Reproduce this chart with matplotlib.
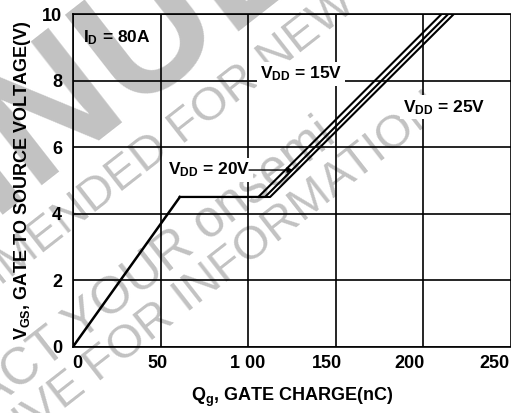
import matplotlib
matplotlib.use("Agg")
import matplotlib.pyplot as plt

plt.rcParams['font.family'] = ['Liberation Sans', 'DejaVu Sans']
plt.rcParams['font.weight'] = 'bold'
plt.rcParams['mathtext.fontset'] = 'custom'
plt.rcParams['mathtext.rm'] = 'Liberation Sans:bold'
plt.rcParams['mathtext.it'] = 'Liberation Sans:bold'
plt.rcParams['mathtext.bf'] = 'Liberation Sans:bold'

# gate charge curves (Qg in nC, Vgs in V)
rise_q = [0, 61]
rise_v = [0, 4.5]
curves = {
    '15V': ([61, 105.8, 210.4], [4.5, 4.5, 10.0]),
    '20V': ([61, 109.6, 214.2], [4.5, 4.5, 10.0]),
    '25V': ([61, 112.5, 217.4], [4.5, 4.5, 10.0]),
}
xticks = [0, 50, 100, 150, 200, 250]
xtick_labels = ['0', '50', '1 00', '150', '200', '250']
xlabel_pos = [2.3, 48.5, 99.5, 145, 192, 240.7]   # labels sit a bit off the grid
yticks = [0, 2, 4, 6, 8, 10]

fig = plt.figure(figsize=(5.11, 4.13), dpi=100)
ax = fig.add_axes([73/511, 66.3/413, 438/511, 332.7/413])

# watermark, behind the axes
def wm(x, y, s, size, ha, weight='normal'):
    fig.text(x/511, 1 - y/413, s, fontsize=size, color='#c2c2c2',
             fontweight=weight, rotation=38, rotation_mode='anchor',
             ha=ha, va='baseline', zorder=-1)

wm(30, 185, 'DISCONTI', 125, 'right', 'bold')
wm(30, 185, 'NUED', 125, 'left', 'bold')
wm(182, 145, 'NOT RECOMMENDED ', 34, 'right')
wm(182, 145, 'FOR NEW DESIGN', 34, 'left')
wm(337, 140, 'CONTACT YOUR onsemi', 37, 'right')
wm(445, 112, 'REPRESENTATIVE FOR INFORMATION', 34, 'right')

ax.set_facecolor('none')
ax.set_xlim(0, 250)
ax.set_ylim(0, 10)
ax.set_xticks(xticks)
ax.set_xticklabels([])
ax.set_yticks(yticks)
ax.grid(True, color='black', linewidth=1.2)
ax.tick_params(length=0, labelsize=13, pad=8)
for side in ['left', 'top', 'bottom']:
    ax.spines[side].set_linewidth(1.2)
ax.spines['right'].set_visible(False)
for pos, lab in zip(xlabel_pos, xtick_labels):
    ax.text(pos, -0.49, lab, fontsize=13, ha='center', va='center', clip_on=False)

ax.plot(rise_q, rise_v, color='black', lw=1.8, zorder=3)
for name, (q, v) in curves.items():
    ax.plot(q, v, color='black', lw=1.5, zorder=3)

box = dict(facecolor='white', edgecolor='none', pad=2)
ax.text(5.7, 9.3, r'I$_{\mathrm{D}}$ = 80A', fontsize=12.5, va='center', zorder=4)
ax.text(106.7, 8.2, r'V$_{\mathrm{DD}}$ = 15V', fontsize=12.5, va='center', bbox=box, zorder=4)
ax.text(188.4, 7.2, r'V$_{\mathrm{DD}}$ = 25V', fontsize=12.5, va='center', bbox=box, zorder=4)
ax.text(54.2, 5.31, r'V$_{\mathrm{DD}}$ = 20V', fontsize=12.5, va='center', bbox=box, zorder=4)
ax.annotate('', xy=(125.6, 5.31), xytext=(100.5, 5.31),
            arrowprops=dict(arrowstyle='-|>', color='black', lw=1.0,
                            mutation_scale=8, shrinkA=0, shrinkB=0), zorder=4)

fig.text(23/511, 1 - 180/413, r'V$_{\mathrm{GS}}$, GATE TO SOURCE VOLTAGE(V)',
         rotation=90, ha='center', va='center', fontsize=13)
fig.text(292.6/511, 1 - 397/413, r'Q$_{\mathrm{g}}$, GATE CHARGE(nC)',
         ha='center', va='center', fontsize=13)

fig.savefig('out.png', dpi=100)
